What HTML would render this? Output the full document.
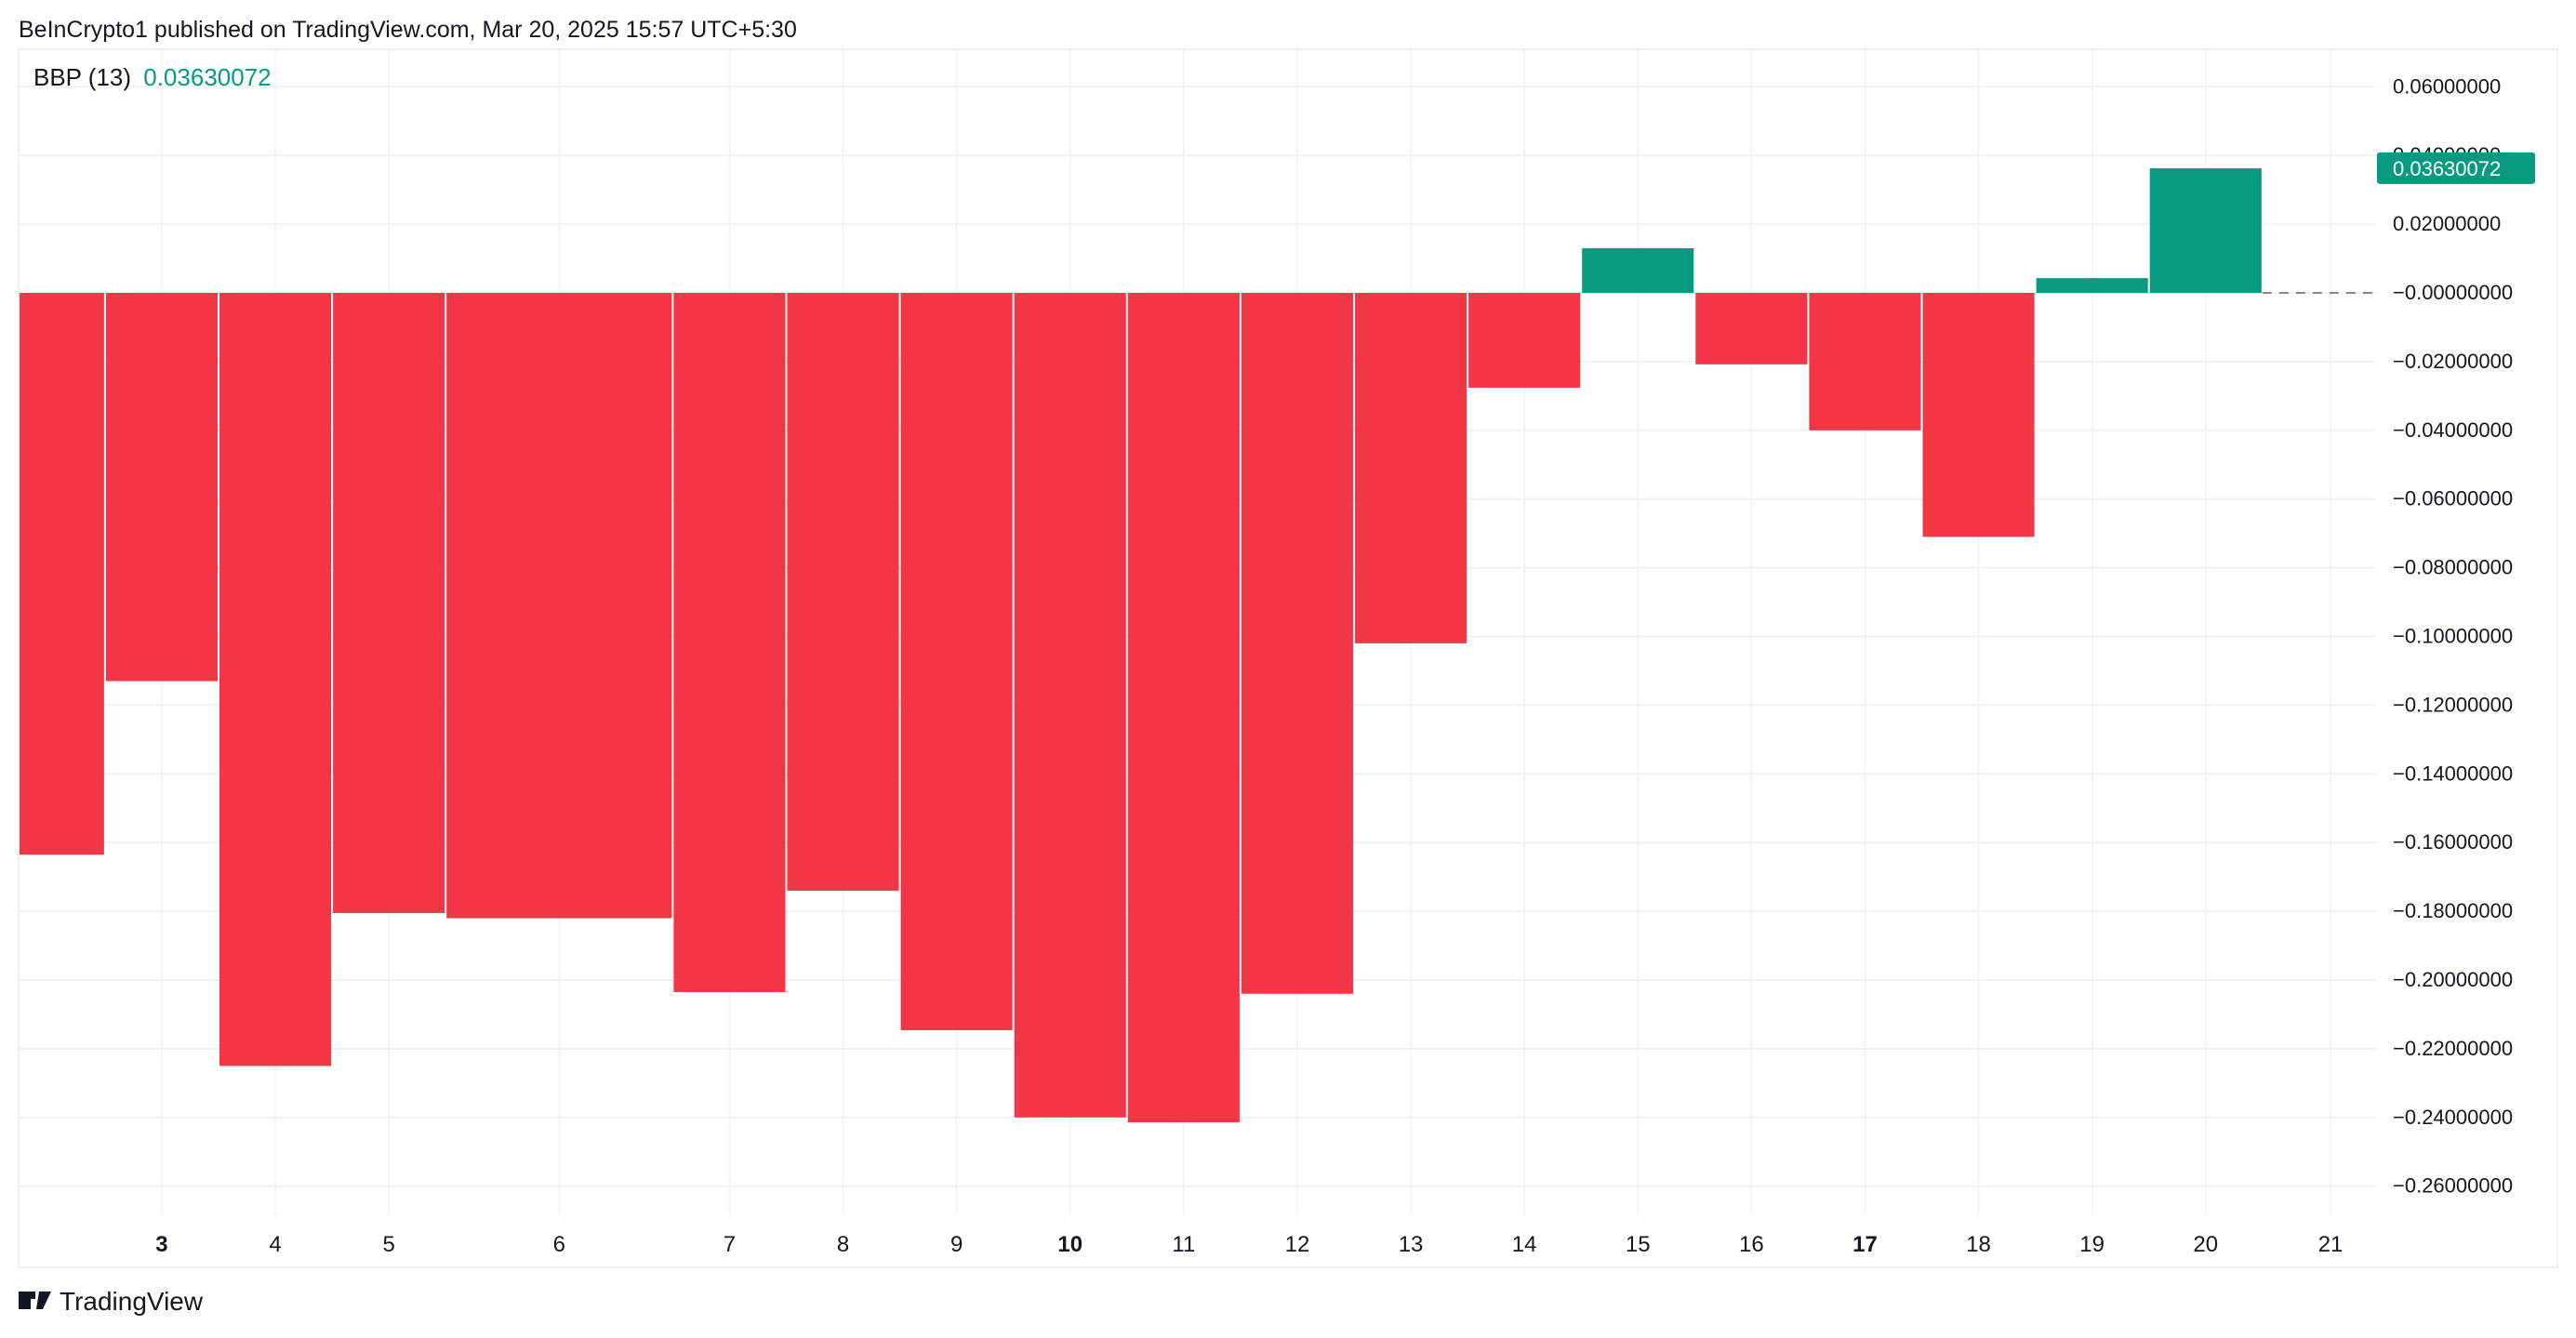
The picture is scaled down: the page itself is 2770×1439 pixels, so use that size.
<!DOCTYPE html>
<html><head><meta charset="utf-8"><style>
body{margin:0;background:#fff;width:2770px;height:1434px;overflow:hidden;font-family:"Liberation Sans",sans-serif;}
</style></head><body>
<svg id="c" width="2770" height="1434" xmlns="http://www.w3.org/2000/svg" style="font-family:'Liberation Sans',sans-serif">
<text x="20" y="40" font-size="25" fill="#131722">BeInCrypto1 published on TradingView.com, Mar 20, 2025 15:57 UTC+5:30</text>
<rect x="20" y="53" width="2730" height="1310" fill="none" stroke="#eef0f3" stroke-width="2"/>
<g id="grid"></g><g id="bars"></g><g id="yax"></g><g id="xax"></g>
<text x="36" y="92" font-size="26" fill="#131722">BBP (13)  <tspan dx="6" fill="#089981">0.03630072</tspan></text>
<g><rect x="20" y="1389" width="13" height="19" fill="#131722"/><rect x="30" y="1389" width="8" height="8" fill="#131722"/><path d="M42 1389 h13 l-9 19 h-7 z" fill="#131722"/><text x="64" y="1409" font-size="28" fill="#131722">TradingView</text></g>
</svg>
<script>
const barStarts=[-2,-1,0,1,2,4,5,6,7,8,9,10,11,12,13,14,15,16,17];
const barEnds=[-1,0,1,2,4,5,6,7,8,9,10,11,12,13,14,15,16,17,18];
const barValues=[-0.1635,-0.113,-0.225,-0.1805,-0.182,-0.2035,-0.174,-0.2146,-0.240,-0.2414,-0.204,-0.102,-0.0276,0.013,-0.0208,-0.040,-0.071,0.0043,0.0363];
const xTickLabels=["3","4","5","6","7","8","9","10","11","12","13","14","15","16","17","18","19","20","21"];
const xTickPos=[-0.5,0.5,1.5,3,4.5,5.5,6.5,7.5,8.5,9.5,10.5,11.5,12.5,13.5,14.5,15.5,16.5,17.5,18.6];
const boldTicks=["3","10","17"];
const yTicks=[0.06,0.04,0.02,0,-0.02,-0.04,-0.06,-0.08,-0.10,-0.12,-0.14,-0.16,-0.18,-0.20,-0.22,-0.24,-0.26];
const lastValue=0.03630072;
const NS="http://www.w3.org/2000/svg";
const PL=20,PR=2555,PT=54,PB=1307;
const xs=u=>235+u*122.1;
const ys=v=>315-v/0.02*73.9;
function mk(t,a,p){const e=document.createElementNS(NS,t);for(const k in a)e.setAttribute(k,a[k]);p.appendChild(e);return e;}
const grid=document.getElementById('grid'),bars=document.getElementById('bars'),yax=document.getElementById('yax'),xax=document.getElementById('xax');
yTicks.forEach(v=>{const l=mk('line',{x1:PL,x2:PR,y1:ys(v),y2:ys(v),stroke:'#f0f1f3','stroke-width':2},grid);


const t=mk('text',{x:2573,y:ys(v)+7,'font-size':22,fill:'#131722'},yax);
t.textContent=(v<=0?'\u22120.':'0.')+Math.round(Math.abs(v)*1e8).toString().padStart(8,'0');

});
xTickPos.forEach((u,i)=>{const l=mk('line',{x1:xs(u),x2:xs(u),y1:PT,y2:PB,stroke:'#f0f1f3','stroke-width':1.5},grid);


const b=boldTicks.includes(xTickLabels[i]);
const t=mk('text',{x:xs(u),y:1346,'font-size':24,'text-anchor':'middle',fill:'#131722','font-weight':b?'bold':'normal'},xax);
t.textContent=xTickLabels[i];

});
barValues.forEach((v,i)=>{let x0=Math.max(PL+1,xs(barStarts[i])+1),x1=xs(barEnds[i])-1;
const y0=ys(Math.max(v,0)),y1=ys(Math.min(v,0));
const r=mk('rect',{x:x0,y:y0,width:x1-x0,height:y1-y0,fill:v>=0?'#089981':'#F23645'},bars);

});
const zl=mk('line',{x1:xs(18),x2:PR,y1:ys(0),y2:ys(0),stroke:'#888','stroke-width':2,'stroke-dasharray':'10 8'},bars);


const lb=mk('rect',{x:2556,y:ys(lastValue)-17,width:170,height:34,rx:3,fill:'#089981'},yax);


const lt=mk('text',{x:2573,y:ys(lastValue)+8,'font-size':22,fill:'#fff'},yax);
lt.textContent=lastValue.toFixed(8);


</script>
</body></html>
